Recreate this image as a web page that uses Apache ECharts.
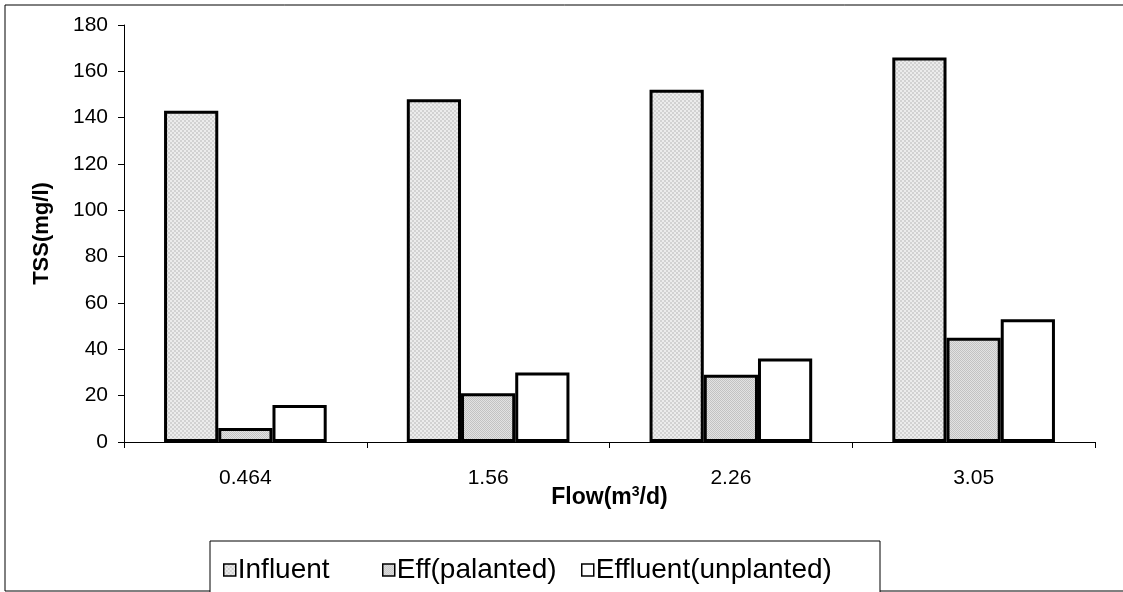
<!DOCTYPE html>
<html>
<head>
<meta charset="utf-8">
<script src="https://cdn.jsdelivr.net/npm/echarts@6/dist/echarts.min.js"></script>
<style>
  html, body { margin: 0; padding: 0; background: #fff; }
  #chart { width: 1123px; height: 592px; }
</style>
</head>
<body>
<div id="chart"></div>
<script>
// Flow rates (m3/d) on the category axis
const categories = ['0.464', '1.56', '2.26', '3.05'];
// TSS concentrations (mg/l)
const influent = [143, 148, 152, 166];
const effPlanted = [6, 21, 29, 45];
const effUnplanted = [16, 30, 36, 53];
const seriesNames = ['Influent', 'Eff(palanted)', 'Effluent(unplanted)'];
const yTicks = { min: 0, max: 180, step: 20 };

// Small dotted fills in the style of classic spreadsheet hatching
function dotPattern(size, dark, light) {
  const c = document.createElement('canvas');
  c.width = size; c.height = size;
  const g = c.getContext('2d');
  g.fillStyle = light;
  g.fillRect(0, 0, size, size);
  g.fillStyle = dark;
  const h = size / 2;
  g.fillRect(0, 0, h, h);
  g.fillRect(h, h, h, h);
  return { image: c, repeat: 'repeat' };
}
const influentFill = dotPattern(4, '#d2d2d2', '#ececec');
const plantedFill = dotPattern(2, '#c2c2c2', '#e2e2e2');

const font = '"Liberation Sans", Arial, sans-serif';
const chart = echarts.init(document.getElementById('chart'), null, { renderer: 'canvas' });

const barStyle = (fill) => ({ color: fill, borderColor: '#000', borderWidth: 3 });

// One legend entry per column, laid out like a spreadsheet legend row
const legendLefts = [218, 377, 576];
const legends = seriesNames.map((name, i) => ({
  left: legendLefts[i], top: 551, z: 5,
  itemWidth: 12, itemHeight: 12,
  icon: 'rect',
  textStyle: { fontFamily: font, fontSize: 28, color: '#000', padding: [0, 0, 0, -3] },
  itemStyle: { borderColor: '#000', borderWidth: 1.5 },
  data: [name]
}));

chart.setOption({
  animation: false,
  backgroundColor: '#fff',
  textStyle: { fontFamily: font },
  graphic: [
    { type: 'rect', z: -10, shape: { x: 5, y: 5, width: 1130, height: 586 },
      style: { fill: '#fff', stroke: '#000', lineWidth: 1 } },
    { type: 'rect', z: 0, shape: { x: 210, y: 541, width: 670, height: 60 },
      style: { fill: '#fff', stroke: '#000', lineWidth: 1 } }
  ],
  grid: { left: 124, right: 28, top: 25, bottom: 150, containLabel: false },
  legend: legends,
  xAxis: {
    type: 'category',
    data: categories,
    name: '{b|Flow(m}{s|3}{b|/d)}',
    nameLocation: 'middle',
    nameGap: 43,
    nameMoveOverlap: false,
    nameTextStyle: {
      rich: {
        b: { fontFamily: font, fontSize: 23, fontWeight: 'bold', color: '#000' },
        s: { fontFamily: font, fontSize: 14, fontWeight: 'bold', color: '#000', verticalAlign: 'bottom', padding: [0, 0, 12, 0] }
      }
    },
    axisLine: { lineStyle: { color: '#000', width: 1 } },
    axisTick: { show: true, length: 6, alignWithLabel: false, lineStyle: { color: '#000' } },
    axisLabel: { fontFamily: font, fontSize: 21, color: '#000', margin: 26 }
  },
  yAxis: {
    type: 'value',
    min: yTicks.min, max: yTicks.max, interval: yTicks.step,
    name: 'TSS(mg/l)',
    nameLocation: 'middle',
    nameGap: 71,
    nameTextStyle: { fontFamily: font, fontSize: 22, fontWeight: 'bold', color: '#000' },
    axisLine: { show: true, lineStyle: { color: '#000', width: 1 } },
    axisTick: { show: true, length: 6, lineStyle: { color: '#000' } },
    axisLabel: { fontFamily: font, fontSize: 21, color: '#000', margin: 16 },
    splitLine: { show: false }
  },
  series: [
    { name: seriesNames[0], type: 'bar', data: influent, barGap: '0%', barCategoryGap: '33%',
      itemStyle: barStyle(influentFill) },
    { name: seriesNames[1], type: 'bar', data: effPlanted,
      itemStyle: barStyle(plantedFill) },
    { name: seriesNames[2], type: 'bar', data: effUnplanted,
      itemStyle: barStyle('#ffffff') }
  ]
});
</script>
</body>
</html>
